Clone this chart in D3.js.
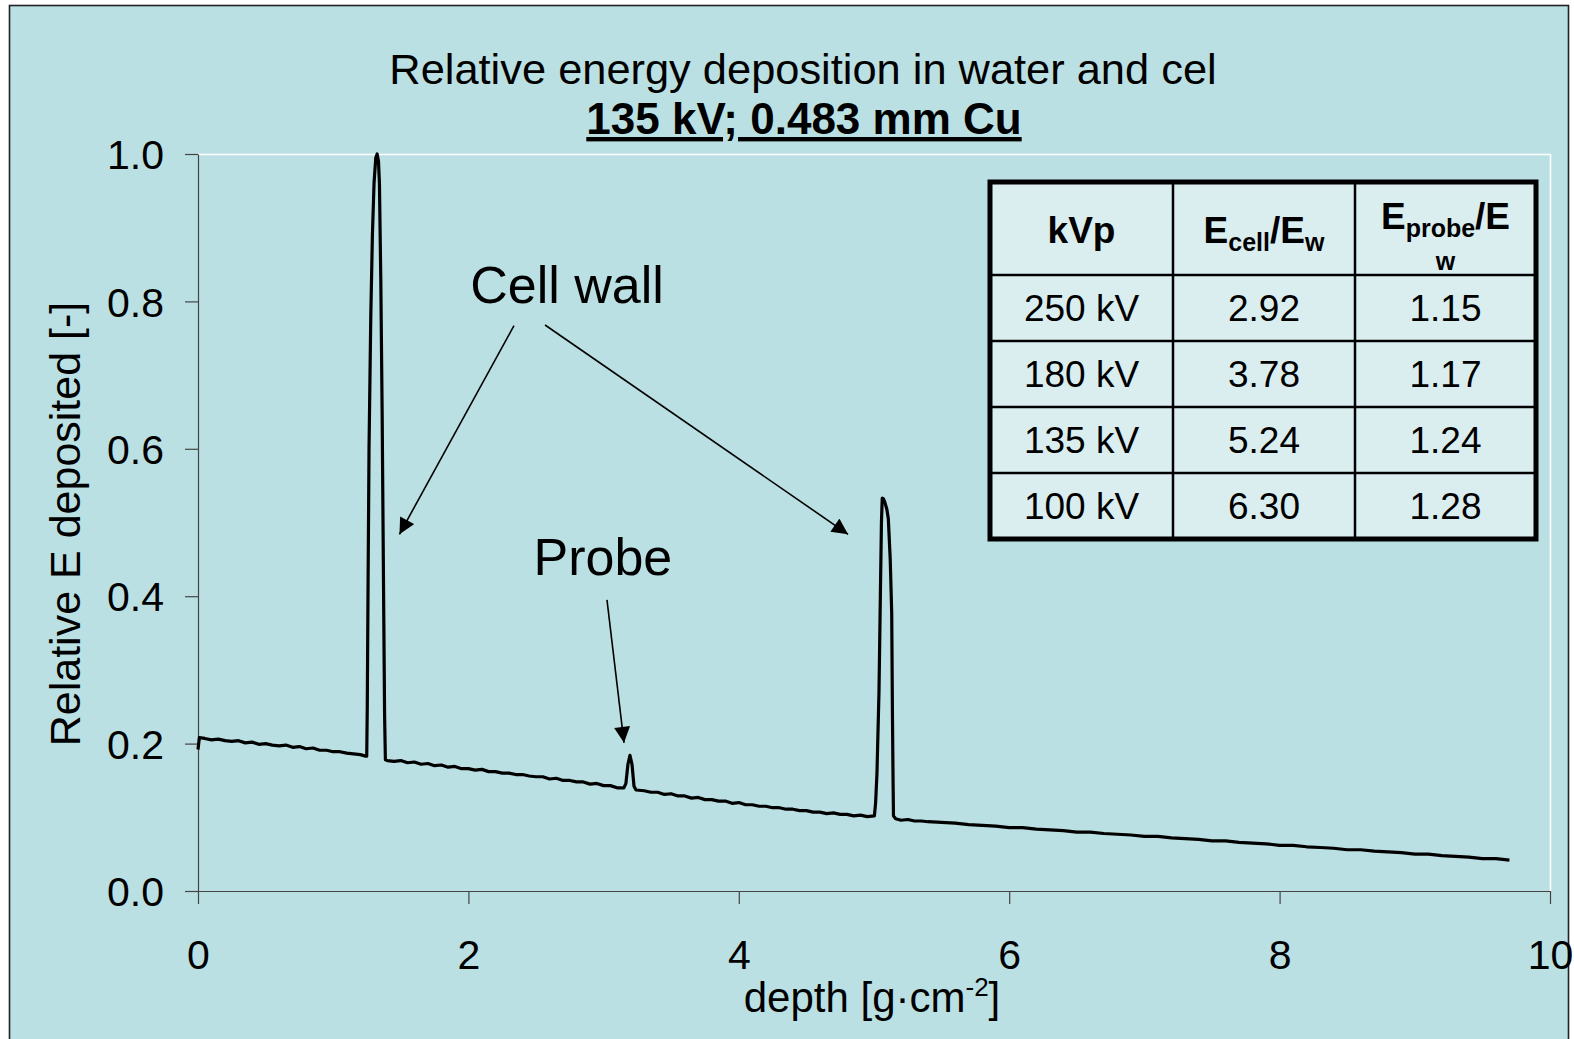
<!DOCTYPE html>
<html>
<head>
<meta charset="utf-8">
<script src="https://cdn.jsdelivr.net/npm/d3@7"></script>
<style>
  html, body { margin: 0; padding: 0; background: #ffffff; }
  svg { display: block; font-family: "Liberation Sans", Arial, sans-serif; }
</style>
</head>
<body>
<script>
// ---- data ----
const titleLine1 = "Relative energy deposition in water and cel";
const titleLine2 = "135 kV; 0.483 mm Cu";
const xTitle = "depth [g·cm";
const yTitle = "Relative E deposited [-]";
const xTicks = [0, 2, 4, 6, 8, 10];
const yTicks = [0.0, 0.2, 0.4, 0.6, 0.8, 1.0];

const depth = [
  0.00, 0.01, 0.05, 0.10, 0.15, 0.20, 0.25, 0.30, 0.35, 0.40, 0.45, 0.50, 0.55, 0.60, 0.65, 0.70,
  0.75, 0.80, 0.85, 0.90, 0.95, 1.00, 1.05, 1.10, 1.15, 1.20, 1.24,
  1.248, 1.252, 1.258, 1.265, 1.278, 1.290, 1.302, 1.315, 1.325, 1.335, 1.342, 1.352, 1.362, 1.372, 1.380, 1.386,
  1.40, 1.45, 1.50, 1.55, 1.60, 1.65, 1.70, 1.75, 1.80, 1.85, 1.90, 1.95, 2.00, 2.05, 2.10, 2.15,
  2.20, 2.25, 2.30, 2.35, 2.40, 2.45, 2.50, 2.55, 2.60, 2.65, 2.70, 2.75, 2.80, 2.85, 2.90, 2.95,
  3.00, 3.05, 3.10, 3.15,
  3.165, 3.18, 3.195, 3.21, 3.225, 3.24,
  3.30, 3.35, 3.40, 3.45, 3.50, 3.55, 3.60, 3.65, 3.70, 3.75, 3.80, 3.85, 3.90, 3.95, 4.00, 4.05,
  4.10, 4.15, 4.20, 4.25, 4.30, 4.35, 4.40, 4.45, 4.50, 4.55, 4.60, 4.65, 4.70, 4.75, 4.80, 4.85,
  4.90, 4.95, 5.003,
  5.012, 5.022, 5.037, 5.047, 5.055, 5.061, 5.070, 5.081, 5.095, 5.106, 5.120, 5.131, 5.136, 5.141, 5.144,
  5.16, 5.20, 5.25, 5.30, 5.35, 5.40, 5.50, 5.60, 5.70, 5.80, 5.90, 6.00, 6.10, 6.20, 6.30, 6.40,
  6.50, 6.60, 6.70, 6.80, 6.90, 7.00, 7.10, 7.20, 7.30, 7.40, 7.50, 7.60, 7.70, 7.80, 7.90, 8.00,
  8.10, 8.20, 8.30, 8.40, 8.50, 8.60, 8.70, 8.80, 8.90, 9.00, 9.10, 9.20, 9.30, 9.40, 9.50, 9.60, 9.70
];
const energy = [
  0.192, 0.208, 0.207, 0.205, 0.206, 0.204, 0.203, 0.204, 0.201, 0.202, 0.199, 0.200, 0.198, 0.197, 0.198, 0.195,
  0.196, 0.193, 0.194, 0.191, 0.191, 0.189, 0.189, 0.187, 0.186, 0.185, 0.183,
  0.183, 0.250, 0.420, 0.600, 0.780, 0.890, 0.960, 0.995, 1.000, 0.990, 0.960, 0.830, 0.650, 0.420, 0.240, 0.178,
  0.177, 0.176, 0.177, 0.174, 0.175, 0.172, 0.173, 0.170, 0.171, 0.168, 0.169, 0.166, 0.166, 0.164, 0.165, 0.162,
  0.162, 0.160, 0.160, 0.158, 0.158, 0.156, 0.155, 0.155, 0.152, 0.153, 0.150, 0.150, 0.148, 0.148, 0.145, 0.146,
  0.143, 0.143, 0.140, 0.140,
  0.146, 0.172, 0.184, 0.172, 0.142, 0.137,
  0.136, 0.134, 0.134, 0.131, 0.132, 0.129, 0.129, 0.126, 0.127, 0.124, 0.124, 0.122, 0.122, 0.119, 0.120, 0.117,
  0.117, 0.115, 0.115, 0.113, 0.113, 0.111, 0.111, 0.109, 0.109, 0.107, 0.107, 0.105, 0.106, 0.104, 0.104, 0.102,
  0.103, 0.101, 0.102,
  0.120, 0.160, 0.271, 0.400, 0.500, 0.533, 0.532, 0.527, 0.518, 0.505, 0.450, 0.377, 0.248, 0.150, 0.102,
  0.098, 0.096, 0.097, 0.095, 0.095, 0.094, 0.093, 0.092, 0.090, 0.089, 0.088, 0.086, 0.086, 0.084, 0.083, 0.082,
  0.080, 0.080, 0.078, 0.077, 0.076, 0.074, 0.074, 0.072, 0.071, 0.070, 0.068, 0.068, 0.066, 0.065, 0.064, 0.062,
  0.062, 0.060, 0.059, 0.058, 0.056, 0.056, 0.054, 0.053, 0.052, 0.050, 0.050, 0.048, 0.047, 0.046, 0.044, 0.044, 0.042
];

// table
const tableHeaders = ["kVp", "Ecell/Ew", "Eprobe/Ew"];
const tableKVp = ["250 kV", "180 kV", "135 kV", "100 kV"];
const tableCell = ["2.92", "3.78", "5.24", "6.30"];
const tableProbe = ["1.15", "1.17", "1.24", "1.28"];

// annotations (in data units)
const annoLabels = ["Cell wall", "Probe"];
const annoLabelPos = [[2.73, 0.798], [2.995, 0.429]];
const annoArrows = [
  [[2.337, 0.767], [1.490, 0.484]],
  [[2.567, 0.768], [4.808, 0.484]],
  [[3.025, 0.395], [3.151, 0.201]]
];

// ---- drawing ----
const W = 1574, H = 1039;
const BG = "#bbe0e3";
const TABLE_BG = "#daeef0";
const svg = d3.select("body").append("svg").attr("width", W).attr("height", H);

svg.append("rect").attr("x", 0).attr("y", 0).attr("width", W).attr("height", H).attr("fill", "#ffffff");
svg.append("rect").attr("x", 9.5).attr("y", 5.5).attr("width", 1559).attr("height", 1045)
  .attr("fill", BG).attr("stroke", "#222").attr("stroke-width", 1.6);

const plot = { left: 198, right: 1550, top: 154, bottom: 891 };
const x = d3.scaleLinear().domain([0, 10]).range([plot.left, plot.right]);
const y = d3.scaleLinear().domain([0, 1]).range([plot.bottom, plot.top]);

// plot frame (white top & right)
svg.append("line").attr("x1", plot.left).attr("x2", plot.right).attr("y1", plot.top + 0.5).attr("y2", plot.top + 0.5)
  .attr("stroke", "#ffffff").attr("stroke-width", 1.5);
svg.append("line").attr("x1", plot.right + 0.5).attr("x2", plot.right + 0.5).attr("y1", plot.top).attr("y2", plot.bottom)
  .attr("stroke", "#ffffff").attr("stroke-width", 1.5);

// axes
const xAxis = d3.axisBottom(x).tickValues(xTicks).tickFormat(d3.format("d")).tickSizeInner(13).tickSizeOuter(0).tickPadding(10);
const yAxis = d3.axisLeft(y).tickValues(yTicks).tickFormat(d3.format(".1f")).tickSizeInner(13).tickSizeOuter(0).tickPadding(21);

const gx = svg.append("g").attr("transform", `translate(0,${plot.bottom})`).call(xAxis);
const gy = svg.append("g").attr("transform", `translate(${plot.left},0)`).call(yAxis);
[gx, gy].forEach(g => {
  g.select(".domain").attr("stroke", "#444").attr("stroke-width", 1.2);
  g.selectAll(".tick line").attr("stroke", "#444").attr("stroke-width", 1.2);
  g.selectAll(".tick text").attr("fill", "#000").style("font-size", "41px")
    .style("font-family", "'Liberation Sans', Arial, sans-serif");
});
gx.selectAll(".tick text").attr("dy", null).attr("y", 78);
gy.selectAll(".tick text").attr("dy", "0.36em");

// data line
const pts = depth.map((d, i) => [d, energy[i]]);
const line = d3.line().x(d => x(d[0])).y(d => y(d[1]));
svg.append("path").datum(pts).attr("d", line).attr("fill", "none")
  .attr("stroke", "#000").attr("stroke-width", 3.2).attr("stroke-linejoin", "round");

// titles
svg.append("text").attr("x", 803).attr("y", 84).attr("text-anchor", "middle")
  .style("font-size", "43.4px").text(titleLine1);
svg.append("text").attr("x", 804).attr("y", 134).attr("text-anchor", "middle")
  .style("font-size", "44px").style("font-weight", "bold").style("text-decoration", "underline")
  .text(titleLine2);

// axis titles
const xt = svg.append("text").attr("x", 872).attr("y", 1012).attr("text-anchor", "middle").style("font-size", "42px");
xt.append("tspan").text(xTitle);
xt.append("tspan").attr("dy", -16).style("font-size", "26px").text("-2");
xt.append("tspan").attr("dy", 16).text("]");

svg.append("text").attr("transform", "translate(80,524) rotate(-90)").attr("text-anchor", "middle")
  .style("font-size", "43px").text(yTitle);

// annotations
const defs = svg.append("defs");
defs.append("marker").attr("id", "arrow").attr("viewBox", "0 0 10 10").attr("refX", 10).attr("refY", 5)
  .attr("markerWidth", 11).attr("markerHeight", 10).attr("markerUnits", "strokeWidth").attr("orient", "auto")
  .append("path").attr("d", "M0,0 L10,5 L0,10 z").attr("fill", "#000");

annoArrows.forEach(a => {
  svg.append("line").attr("x1", x(a[0][0])).attr("y1", y(a[0][1])).attr("x2", x(a[1][0])).attr("y2", y(a[1][1]))
    .attr("stroke", "#000").attr("stroke-width", 1.6).attr("marker-end", "url(#arrow)");
});
annoLabels.forEach((t, i) => {
  svg.append("text").attr("x", x(annoLabelPos[i][0])).attr("y", y(annoLabelPos[i][1])).attr("text-anchor", "middle")
    .style("font-size", "52px").text(t);
});

// table
const tbl = { colX: [990, 1173, 1355, 1536], rowY: [182, 275, 341, 407, 473, 539] };
const tg = svg.append("g");
tg.append("rect").attr("x", tbl.colX[0]).attr("y", tbl.rowY[0])
  .attr("width", tbl.colX[3] - tbl.colX[0]).attr("height", tbl.rowY[5] - tbl.rowY[0]).attr("fill", TABLE_BG);
tbl.colX.slice(1, 3).forEach(cx => tg.append("line").attr("x1", cx).attr("x2", cx).attr("y1", tbl.rowY[0]).attr("y2", tbl.rowY[5])
  .attr("stroke", "#000").attr("stroke-width", 2.5));
tbl.rowY.slice(1, 5).forEach(ry => tg.append("line").attr("x1", tbl.colX[0]).attr("x2", tbl.colX[3]).attr("y1", ry).attr("y2", ry)
  .attr("stroke", "#000").attr("stroke-width", 2.5));
tg.append("rect").attr("x", tbl.colX[0]).attr("y", tbl.rowY[0])
  .attr("width", tbl.colX[3] - tbl.colX[0]).attr("height", tbl.rowY[5] - tbl.rowY[0])
  .attr("fill", "none").attr("stroke", "#000").attr("stroke-width", 5);

const colC = [0, 1, 2].map(i => (tbl.colX[i] + tbl.colX[i + 1]) / 2);
// header
tg.append("text").attr("x", colC[0]).attr("y", 243).attr("text-anchor", "middle")
  .style("font-size", "37px").style("font-weight", "bold").text(tableHeaders[0]);
const h2 = tg.append("text").attr("x", colC[1]).attr("y", 243).attr("text-anchor", "middle")
  .style("font-size", "37px").style("font-weight", "bold");
h2.append("tspan").text("E");
h2.append("tspan").attr("dy", 8).style("font-size", "25px").text("cell");
h2.append("tspan").attr("dy", -8).text("/E");
h2.append("tspan").attr("dy", 8).style("font-size", "25px").text("w");
const h3 = tg.append("text").attr("x", colC[2]).attr("y", 229).attr("text-anchor", "middle")
  .style("font-size", "37px").style("font-weight", "bold");
h3.append("tspan").text("E");
h3.append("tspan").attr("dy", 8).style("font-size", "25px").text("probe");
h3.append("tspan").attr("dy", -8).text("/E");
tg.append("text").attr("x", colC[2]).attr("y", 270).attr("text-anchor", "middle")
  .style("font-size", "25px").style("font-weight", "bold").text("w");

[tableKVp, tableCell, tableProbe].forEach((col, ci) => {
  col.forEach((v, ri) => {
    tg.append("text").attr("x", colC[ci]).attr("y", (tbl.rowY[ri + 1] + tbl.rowY[ri + 2]) / 2 + 13)
      .attr("text-anchor", "middle").style("font-size", "37px").text(v);
  });
});
</script>
</body>
</html>
